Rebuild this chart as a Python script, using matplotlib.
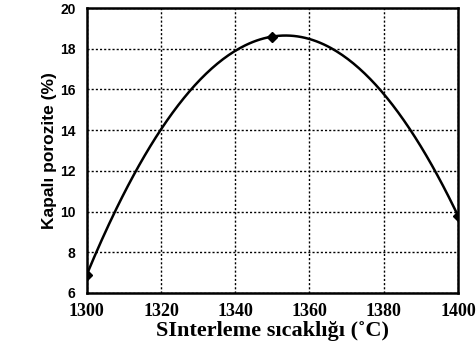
import matplotlib.pyplot as plt
import numpy as np

# measured points
temp = [1300, 1350, 1400]
poro = [6.9, 18.6, 9.8]

xticks = [1300, 1320, 1340, 1360, 1380, 1400]
yticks = [6, 8, 10, 12, 14, 16, 18, 20]

# second order fit through the points
coef = np.polyfit(temp, poro, 2)
xs = np.linspace(1300, 1400, 200)
ys = np.polyval(coef, xs)

fig = plt.figure(figsize=(4.77, 3.52), dpi=100)
ax = fig.add_axes([0.182, 0.168, 0.778, 0.809])

ax.plot(xs, ys, color='black', lw=1.8)
ax.plot(temp, poro, 'D', color='black', ms=5)

ax.set_xlim(1300, 1400)
ax.set_ylim(6, 20)
ax.set_xticks(xticks)
ax.set_yticks(yticks)
ax.grid(True, color='black', linestyle=(0, (1.5, 1.5)), lw=1.0)

for s in ax.spines.values():
    s.set_linewidth(1.8)
ax.tick_params(direction='in', length=0, width=1.5)
ax.tick_params(axis='x', pad=7)
ax.tick_params(axis='y', pad=8)

for lab in ax.get_xticklabels():
    lab.set_fontfamily('Liberation Serif')
    lab.set_fontweight('bold')
    lab.set_fontsize(13)
for lab in ax.get_yticklabels():
    lab.set_fontfamily('Liberation Sans')
    lab.set_fontweight('bold')
    lab.set_fontsize(10)

ax.set_xlabel('SInterleme sıcaklığı (˚C)', fontfamily='Liberation Serif',
              fontweight='bold', fontsize=16, labelpad=1)
ax.set_ylabel('Kapalı porozite (%)', fontfamily='Liberation Sans',
              fontweight='bold', fontsize=12.5, labelpad=2)

fig.savefig('out.png', dpi=100)
